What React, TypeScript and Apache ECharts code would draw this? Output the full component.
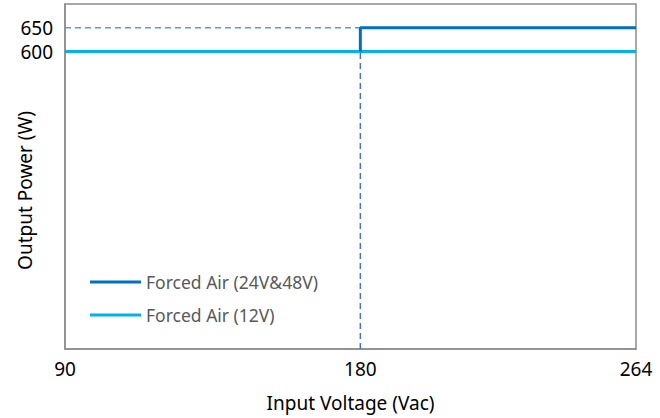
import React, { useEffect, useRef } from "react";
import * as echarts from "echarts";

const xTicks = [90, 180, 264];
const yTicks = [600, 650];
const series24_48 = [
  [180, 600],
  [180, 650],
  [264, 650],
];
const series12 = [
  [90, 600],
  [264, 600],
];
const guideH = [
  [90, 650],
  [180, 650],
];
const guideV = [
  [180, -25],
  [180, 650],
];
const seriesNames = ["Forced Air (24V&48V)", "Forced Air (12V)"];

export default function App() {
  const ref = useRef<HTMLDivElement>(null);
  useEffect(() => {
    document.body.style.margin = "0";
    const chart = echarts.init(ref.current!, null, { renderer: "svg" });
    const font = "Noto Sans";
    chart.setOption({
      animation: false,
      textStyle: { fontFamily: font },
      grid: {
        left: 65,
        top: 4,
        right: 24,
        bottom: 69,
        containLabel: false,
        outerBoundsMode: "none",
        show: true,
        borderColor: "#8c8c8c",
        borderWidth: 1.5,
      },
      legend: {
        orient: "vertical",
        left: 85,
        top: 268,
        icon: "rect",
        itemWidth: 51,
        itemHeight: 3,
        itemGap: 15,
        data: seriesNames,
        textStyle: { color: "#595959", fontSize: 17.5, fontFamily: font, padding: [0, 0, 0, 0] },
      },
      xAxis: {
        type: "value",
        min: 90,
        max: 264,
        name: "Input Voltage (Vac)",
        nameLocation: "middle",
        nameGap: 44,
        nameMoveOverlap: false,
        nameTextStyle: { fontSize: 19, color: "#000", fontFamily: font },
        axisLine: { show: true, onZero: false, lineStyle: { color: "#8c8c8c", width: 1.5 } },
        axisTick: { show: false },
        splitLine: { show: false },
        axisLabel: {
          customValues: xTicks,
          fontSize: 19,
          color: "#000",
          margin: 10,
        },
      },
      yAxis: {
        type: "value",
        min: -25,
        max: 700,
        name: "Output Power (W)",
        nameLocation: "middle",
        nameGap: 31,
        nameMoveOverlap: false,
        nameTextStyle: { fontSize: 19, color: "#000", fontFamily: font, padding: [0, 28, 0, 0] },
        axisLine: { show: true, onZero: false, lineStyle: { color: "#8c8c8c", width: 1.5 } },
        axisTick: { show: false },
        splitLine: { show: false },
        axisLabel: {
          customValues: yTicks,
          fontSize: 19,
          color: "#000",
          margin: 12,
        },
      },
      series: [
        {
          type: "line",
          data: guideH,
          symbol: "none",
          silent: true,
          lineStyle: { color: "#5b9bd5", width: 1.5, type: [6, 4] },
          z: 1,
        },
        {
          type: "line",
          data: guideV,
          symbol: "none",
          silent: true,
          lineStyle: { color: "#4472c4", width: 1.5, type: [6, 4] },
          z: 1,
        },
        {
          name: seriesNames[1],
          type: "line",
          data: series12,
          symbol: "none",
          lineStyle: { color: "#00b0f0", width: 3 },
          itemStyle: { color: "#00b0f0" },
          z: 2,
        },
        {
          name: seriesNames[0],
          type: "line",
          data: series24_48,
          symbol: "none",
          lineStyle: { color: "#0070c0", width: 3 },
          itemStyle: { color: "#0070c0" },
          z: 3,
        },
      ],
    });
    return () => chart.dispose();
  }, []);
  return <div ref={ref} style={{ width: 660, height: 418 }} />;
}
